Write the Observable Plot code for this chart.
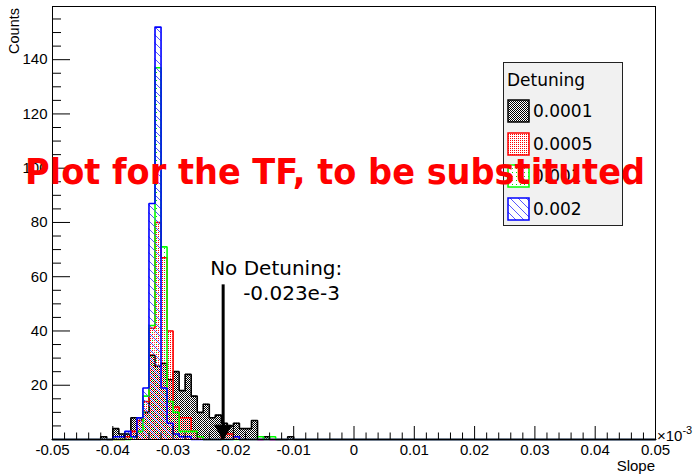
<!DOCTYPE html>
<html><head><meta charset="utf-8">
<script src="https://cdn.jsdelivr.net/npm/d3@7"></script>
<script src="https://cdn.jsdelivr.net/npm/@observablehq/plot@0.6"></script>
<style>
body{margin:0;background:#fff;}
#wrap{position:relative;width:694px;height:475px;overflow:hidden;}
</style></head><body><div id="wrap"></div>
<script>
// ---- data ----
const xRange = [-0.05, 0.05];
const binStart = -0.043;
const binWidth = 0.001;
const detunings = ["0.0001", "0.0005", "0.001", "0.002"];
const lineColors = ["#000000", "#ff0000", "#00ff00", "#0000ff"];
const counts0001 = [0,1,0,4,2,2,8,8,10,31,27,28,22,25,18,24,16,10,13,8,9,6,5,6,4,4,7,0,1,0,0,0,1];
const counts0005 = [0,0,0,0,0,1,3,7,14,41,80,67,40,12,8,8,3,1,0,0,0,3,2,1,0,0,0,0,0,0,0,0,0];
const counts001  = [0,0,0,0,0,0,1,3,16,42,137,71,14,10,3,3,3,1,0,0,0,0,0,0,0,0,0,1,0,1,0,0,0];
const counts002  = [0,0,0,1,1,3,1,8,19,87,152,19,6,2,1,1,0,0,0,0,0,0,0,1,0,0,0,0,0,0,0,0,0];
const xTicks = [-0.05,-0.04,-0.03,-0.02,-0.01,0,0.01,0.02,0.03,0.04,0.05];
const xTickLabels = ["-0.05","-0.04","-0.03","-0.02","-0.01","0","0.01","0.02","0.03","0.04","0.05"];
const yTicks = [20,40,60,80,100,120,140];
const yMax = 159.6;
const arrowX = -0.0217;
const arrowTop = 57;
const annotation = ["No Detuning:", "-0.023e-3"];
const bigText = "Plot for the TF, to be substituted";

const allCounts = [counts0001, counts0005, counts001, counts002];

function barsOf(c) {
  return c.map((v, i) => ({x1: binStart + i * binWidth, x2: binStart + (i + 1) * binWidth, y: v})).filter(d => d.y > 0);
}
function outlineOf(c) {
  const pts = [{x: xRange[0], y: 0}, {x: binStart, y: 0}];
  c.forEach((v, i) => {
    pts.push({x: binStart + i * binWidth, y: v});
    pts.push({x: binStart + (i + 1) * binWidth, y: v});
  });
  pts.push({x: binStart + c.length * binWidth, y: 0});
  pts.push({x: xRange[1], y: 0});
  return pts;
}

const xMinor = d3.range(-0.048, 0.0495, 0.002).filter(v => Math.abs(Math.round(v * 100) - v * 100) > 1e-6);
const yMinor = d3.range(5, 159, 5).filter(v => v % 20 !== 0);

const histMarks = [];
allCounts.forEach((c, s) => {
  histMarks.push(Plot.rectY(barsOf(c), {x1: "x1", x2: "x2", y: "y", fill: `url(#pat${s})`, inset: 0}));
  histMarks.push(Plot.line(outlineOf(c), {x: "x", y: "y", stroke: lineColors[s], strokeWidth: 1.6, strokeLinejoin: "miter"}));
});

const chart = Plot.plot({
  width: 694, height: 475,
  marginLeft: 52, marginRight: 39, marginTop: 6, marginBottom: 36,
  x: {domain: xRange},
  y: {domain: [0, yMax]},
  style: {fontFamily: "'Liberation Sans', Arial, sans-serif", fontSize: "15px", color: "#000", background: "#fff"},
  marks: [
    ...histMarks,
    Plot.frame({stroke: "#000", strokeWidth: 1}),
    Plot.axisX({ticks: xTicks, tickSize: 0, tickPadding: 5, tickFormat: d => xTickLabels[xTicks.indexOf(d)], label: null}),
    Plot.axisX({ticks: xTicks, tickSize: -13, tickFormat: () => "", label: null}),
    Plot.axisX({ticks: xMinor, tickSize: -6.5, tickFormat: () => "", label: null}),
    Plot.axisY({ticks: yTicks, tickSize: 0, tickPadding: 5, label: null}),
    Plot.axisY({ticks: yTicks, tickSize: -18, tickFormat: () => "", label: null}),
    Plot.axisY({ticks: yMinor, tickSize: -9, tickFormat: () => "", label: null}),
    Plot.ruleX([arrowX], {y1: arrowTop, y2: 0, stroke: "#000", strokeWidth: 3, insetBottom: 8}),
    Plot.dot([arrowX], {x: d => d, y: () => 0, symbol: "triangle2", rotate: 180, r: 8, dy: -9.5, fill: "#000", stroke: "#000", strokeWidth: 1}),
    Plot.text([annotation[0]], {x: () => arrowX, y: () => arrowTop, text: d => d, textAnchor: "start", dx: -13, dy: -16, fontSize: 20, fontFamily: "'DejaVu Sans', sans-serif", fill: "#000"}),
    Plot.text([annotation[1]], {x: () => arrowX, y: () => arrowTop, text: d => d, textAnchor: "start", dx: 20, dy: 9, fontSize: 20, fontFamily: "'DejaVu Sans', sans-serif", fill: "#000"})
  ]
});

const svg = d3.select(chart);
const defs = svg.insert("defs", ":first-child");
// black checker
const p0 = defs.append("pattern").attr("id", "pat0").attr("patternUnits", "userSpaceOnUse").attr("width", 2).attr("height", 2);
p0.append("rect").attr("x", 0).attr("y", 0).attr("width", 1).attr("height", 1).attr("fill", "#000");
p0.append("rect").attr("x", 1).attr("y", 1).attr("width", 1).attr("height", 1).attr("fill", "#000");
// red dots
const p1 = defs.append("pattern").attr("id", "pat1").attr("patternUnits", "userSpaceOnUse").attr("width", 2).attr("height", 2);
p1.append("rect").attr("x", 0).attr("y", 0).attr("width", 1).attr("height", 1).attr("fill", "#ff0000");
// green sparse dots
const p2 = defs.append("pattern").attr("id", "pat2").attr("patternUnits", "userSpaceOnUse").attr("width", 4).attr("height", 4);
p2.append("rect").attr("x", 0).attr("y", 0).attr("width", 1).attr("height", 1).attr("fill", "#00dd00");
// blue hatch "\"
const p3 = defs.append("pattern").attr("id", "pat3").attr("patternUnits", "userSpaceOnUse").attr("width", 8).attr("height", 8);
p3.append("path").attr("d", "M-1,-1 L9,9 M-1,7 L1,9 M7,-1 L9,1").attr("stroke", "#4444ff").attr("stroke-width", 0.9).attr("fill", "none");

const FS = "'Liberation Sans', Arial, sans-serif";
const FD = "'DejaVu Sans', sans-serif";
// axis titles
svg.append("text").attr("transform", "translate(19,8) rotate(-90)").attr("text-anchor", "end")
  .attr("font-family", FS).attr("font-size", 14.5).text("Counts");
svg.append("text").attr("x", 655).attr("y", 471).attr("text-anchor", "end")
  .attr("font-family", FS).attr("font-size", 15).text("Slope");
const mult = svg.append("text").attr("x", 657).attr("y", 441).attr("text-anchor", "start")
  .attr("font-family", FS).attr("font-size", 15);
mult.append("tspan").text("\u00d710");
mult.append("tspan").attr("dy", -7).attr("font-size", 11).text("-3");

// legend
const lg = svg.append("g").attr("text-anchor", "start");
lg.append("rect").attr("x", 503.5).attr("y", 62.5).attr("width", 119).attr("height", 163)
  .attr("fill", "#f1f1f1").attr("stroke", "#222").attr("stroke-width", 1);
lg.append("text").attr("x", 507).attr("y", 86).attr("font-family", FD).attr("font-size", 17).text("Detuning");
const rowsY = [111, 144, 176, 209];
detunings.forEach((d, i) => {
  lg.append("rect").attr("x", 508).attr("y", rowsY[i] - 11).attr("width", 21).attr("height", 22)
    .attr("fill", "#fff");
  lg.append("rect").attr("x", 508).attr("y", rowsY[i] - 11).attr("width", 21).attr("height", 22)
    .attr("fill", `url(#pat${i})`).attr("stroke", lineColors[i]).attr("stroke-width", 1.5);
  lg.append("text").attr("x", 533).attr("y", rowsY[i]).attr("dy", "0.36em")
    .attr("font-family", FD).attr("font-size", 17).text(d);
});

// overlay text
svg.append("text").attr("x", 25).attr("y", 184).attr("text-anchor", "start")
  .attr("textLength", 620).attr("lengthAdjust", "spacingAndGlyphs")
  .attr("font-family", FD).attr("font-weight", "bold").attr("font-size", 35)
  .attr("fill", "#ff0000").text(bigText);

document.getElementById("wrap").appendChild(chart);
</script></body></html>
